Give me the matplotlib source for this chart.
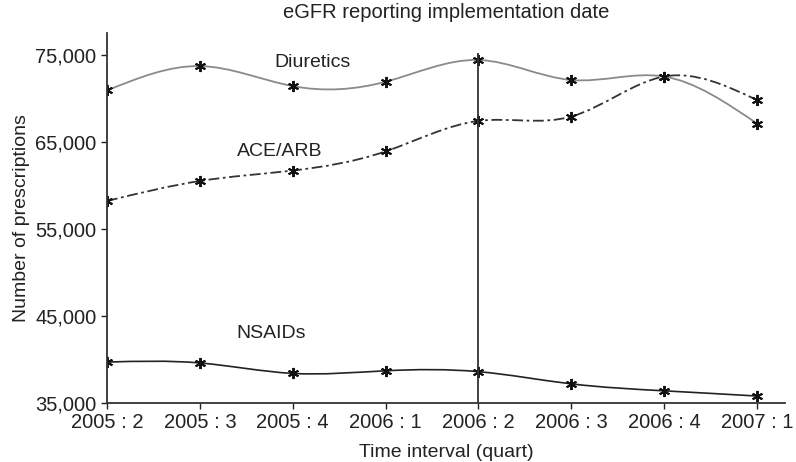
import matplotlib.pyplot as plt
import numpy as np
from matplotlib.patches import PathPatch
from matplotlib.path import Path
from matplotlib.ticker import FuncFormatter

quarters = ["2005 : 2", "2005 : 3", "2005 : 4", "2006 : 1",
            "2006 : 2", "2006 : 3", "2006 : 4", "2007 : 1"]
diuretics = [70900, 73700, 71400, 71900, 74400, 72100, 72500, 67100]
ace_arb = [58200, 60500, 61700, 63900, 67400, 67900, 72500, 69800]
nsaids = [39700, 39600, 38400, 38700, 38600, 37200, 36400, 35800]
implementation_idx = 4

plt.rcParams["font.family"] = ["Liberation Sans", "DejaVu Sans"]


def spline_path(x, y):
    # natural cubic spline slopes, drawn as bezier segments
    x = np.asarray(x, float)
    y = np.asarray(y, float)
    n = len(x)
    h = np.diff(x)
    a = np.zeros((n, n))
    b = np.zeros(n)
    a[0, 0], a[0, 1] = 2, 1
    b[0] = 3 * (y[1] - y[0]) / h[0]
    a[-1, -2], a[-1, -1] = 1, 2
    b[-1] = 3 * (y[-1] - y[-2]) / h[-1]
    for i in range(1, n - 1):
        a[i, i - 1] = 1 / h[i - 1]
        a[i, i] = 2 * (1 / h[i - 1] + 1 / h[i])
        a[i, i + 1] = 1 / h[i]
        b[i] = 3 * ((y[i] - y[i - 1]) / h[i - 1] ** 2 + (y[i + 1] - y[i]) / h[i] ** 2)
    m = np.linalg.solve(a, b)
    verts = [(x[0], y[0])]
    codes = [Path.MOVETO]
    for i in range(n - 1):
        verts += [(x[i] + h[i] / 3, y[i] + m[i] * h[i] / 3),
                  (x[i + 1] - h[i] / 3, y[i + 1] - m[i + 1] * h[i] / 3),
                  (x[i + 1], y[i + 1])]
        codes += [Path.CURVE4] * 3
    return Path(verts, codes)


fig = plt.figure(figsize=(7.96, 4.62), dpi=100)
ax = fig.add_axes([0.1344, 0.1277, 0.8516, 0.8009])
xs = np.arange(len(quarters))

series = [
    (diuretics, "#8a8a8a", "-", 1.3),
    (ace_arb, "#333333", (0, (6, 2, 1.5, 2)), 1.3),
    (nsaids, "#222222", "-", 1.2),
]
for values, color, style, lw in series:
    ax.add_patch(PathPatch(spline_path(xs, values), fill=False, edgecolor=color,
                           linestyle=style, linewidth=lw))
    ax.plot(xs, values, linestyle="none", marker=(6, 2, 0), markersize=8,
            markeredgewidth=1.4, color="#111111")

ax.vlines(implementation_idx, 35000, 75200, color="#333333", linewidth=1.3)

ax.text(2.21, 74080, "Diuretics", ha="center", va="center", fontsize=14, color="#222222")
ax.text(1.86, 63850, "ACE/ARB", ha="center", va="center", fontsize=14, color="#222222")
ax.text(1.77, 42930, "NSAIDs", ha="center", va="center", fontsize=14, color="#222222")

ax.set_xlim(0, 7.30)
ax.set_ylim(35000, 77500)
ax.set_xticks(xs)
ax.set_xticklabels(quarters)
ax.set_yticks([35000, 45000, 55000, 65000, 75000])
ax.yaxis.set_major_formatter(FuncFormatter(lambda v, _: f"{int(v):,}"))
ax.tick_params(labelsize=14.5, colors="#222222", length=4, width=1)

for side in ("top", "right"):
    ax.spines[side].set_visible(False)
for side in ("left", "bottom"):
    ax.spines[side].set_color("#333333")
    ax.spines[side].set_linewidth(1.3)

ax.set_xlabel("Time interval (quart)", fontsize=14, color="#222222", labelpad=8)
ax.set_ylabel("Number of prescriptions", fontsize=14, color="#222222", labelpad=4)
fig.text(0.56, 0.972, "eGFR reporting implementation date", ha="center", va="center",
         fontsize=14.5, color="#222222")

fig.savefig("out.png", dpi=100)
